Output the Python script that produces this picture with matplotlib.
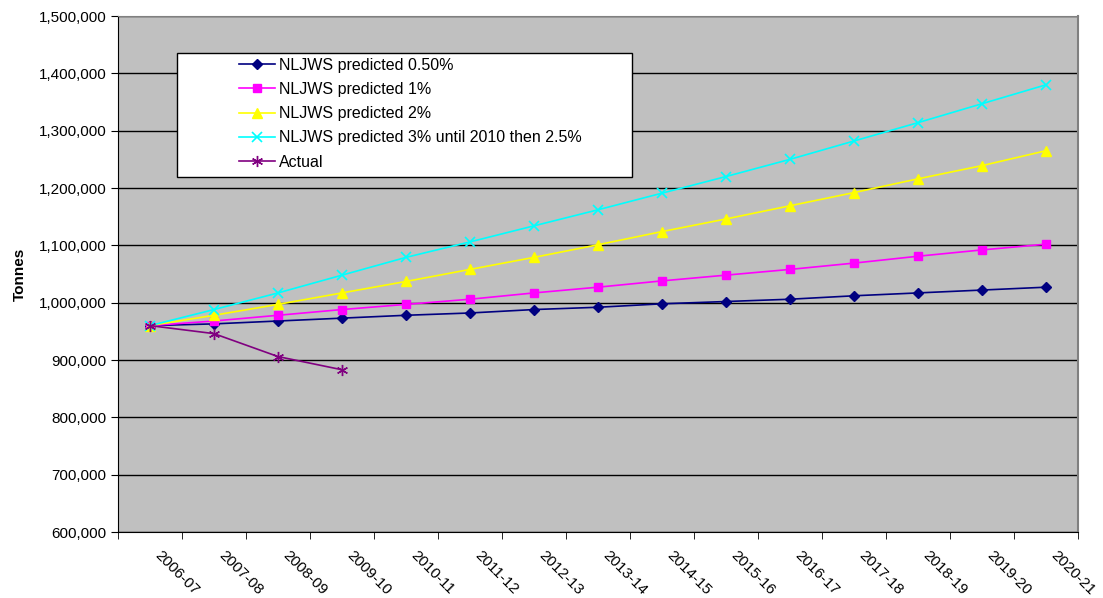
import numpy as np
import matplotlib
matplotlib.use("Agg")
import matplotlib.pyplot as plt
import matplotlib.transforms as mtransforms
from matplotlib.patches import Rectangle
from matplotlib.ticker import FuncFormatter, FixedLocator

plt.rcParams["font.family"] = ["Liberation Sans", "DejaVu Sans"]

# datos
years = ["2006-07", "2007-08", "2008-09", "2009-10", "2010-11", "2011-12", "2012-13",
         "2013-14", "2014-15", "2015-16", "2016-17", "2017-18", "2018-19", "2019-20", "2020-21"]

pred_050 = [960000, 963000, 968000, 973000, 978000, 982000, 988000, 992000,
            998000, 1002000, 1006000, 1012000, 1017000, 1022000, 1027000]
pred_1 = [960000, 968000, 978000, 988000, 997000, 1006000, 1017000, 1027000,
          1038000, 1048000, 1058000, 1069000, 1081000, 1092000, 1102000]
pred_2 = [960000, 978000, 997000, 1017000, 1037000, 1058000, 1079000, 1101000,
          1124000, 1146000, 1169000, 1192000, 1216000, 1239000, 1265000]
pred_3 = [960000, 988000, 1017000, 1048000, 1079000, 1106000, 1134000, 1162000,
          1191000, 1220000, 1250000, 1282000, 1314000, 1347000, 1380000]
actual = [960000, 946000, 906000, 883000]

W, H = 1103, 598
fig = plt.figure(figsize=(W / 100, H / 100), dpi=100)
ax = fig.add_axes([118 / W, 1 - 532 / H, (1078 - 118) / W, (532 - 16) / H])
ax.set_facecolor("#C0C0C0")

x = np.arange(len(years))
ax.plot(x, pred_050, color="#000080", marker="D", ms=5, lw=1.2, label="NLJWS predicted 0.50%")
ax.plot(x, pred_1, color="#FF00FF", marker="s", ms=6, lw=1.2, label="NLJWS predicted 1%")
ax.plot(x, pred_2, color="#FFFF00", marker="^", ms=7, lw=1.2, label="NLJWS predicted 2%")
ax.plot(x, pred_3, color="#00FFFF", marker="x", ms=7, mew=1.2, lw=1.2,
        label="NLJWS predicted 3% until 2010 then 2.5%")
ax.plot(x[:len(actual)], actual, color="#800080", marker=(6, 2, 0), ms=8, mew=1.0, lw=1.2, label="Actual")

ax.set_xlim(-0.5, len(years) - 0.5)
ax.set_ylim(600000, 1500000)
ax.set_yticks(np.arange(600000, 1500001, 100000))
ax.yaxis.set_major_formatter(FuncFormatter(lambda v, p: f"{int(v):,}"))
ax.grid(axis="y", color="black", lw=1)
ax.set_axisbelow(True)

# etiquetas en el centro, ticks en los bordes
ax.set_xticks(x)
ax.set_xticklabels(years, rotation=-45, ha="left", va="top", rotation_mode="anchor", fontsize=11)
ax.tick_params(axis="x", which="major", length=0, pad=12)
shift = mtransforms.ScaledTranslation(12 / 100, 0, fig.dpi_scale_trans)
for lab in ax.get_xticklabels():
    lab.set_transform(lab.get_transform() + shift)
ax.xaxis.set_minor_locator(FixedLocator(np.arange(-0.5, len(years), 1)))
ax.tick_params(axis="x", which="minor", length=5, direction="out", color="black")
ax.tick_params(axis="y", length=5, direction="out", labelsize=11, color="black")

for s in ["left", "bottom"]:
    ax.spines[s].set_color("black")
ax.spines["top"].set_color("#808080")
ax.spines["right"].set_color("#808080")
ax.spines["right"].set_linewidth(1.5)

ax.set_ylabel("Tonnes", fontsize=11, fontweight="bold", labelpad=8)

# caja blanca de la leyenda (como en Excel, con espacio a la izquierda)
def fx(px):
    return (px - 118) / (1078 - 118)

def fy(py):
    return (532 - py) / (532 - 16)

box = Rectangle((fx(177), fy(177)), fx(632) - fx(177), fy(53) - fy(177),
                transform=ax.transAxes, facecolor="white", edgecolor="black", lw=1, zorder=5)
ax.add_patch(box)

leg = ax.legend(loc="upper left", bbox_to_anchor=(fx(233), fy(52)),
                frameon=False, fontsize=11.5, handlelength=2.3, handletextpad=0.25,
                borderpad=0.35, labelspacing=0.58, borderaxespad=0)
leg.set_zorder(6)

fig.savefig("out.png", dpi=100, facecolor="white")
